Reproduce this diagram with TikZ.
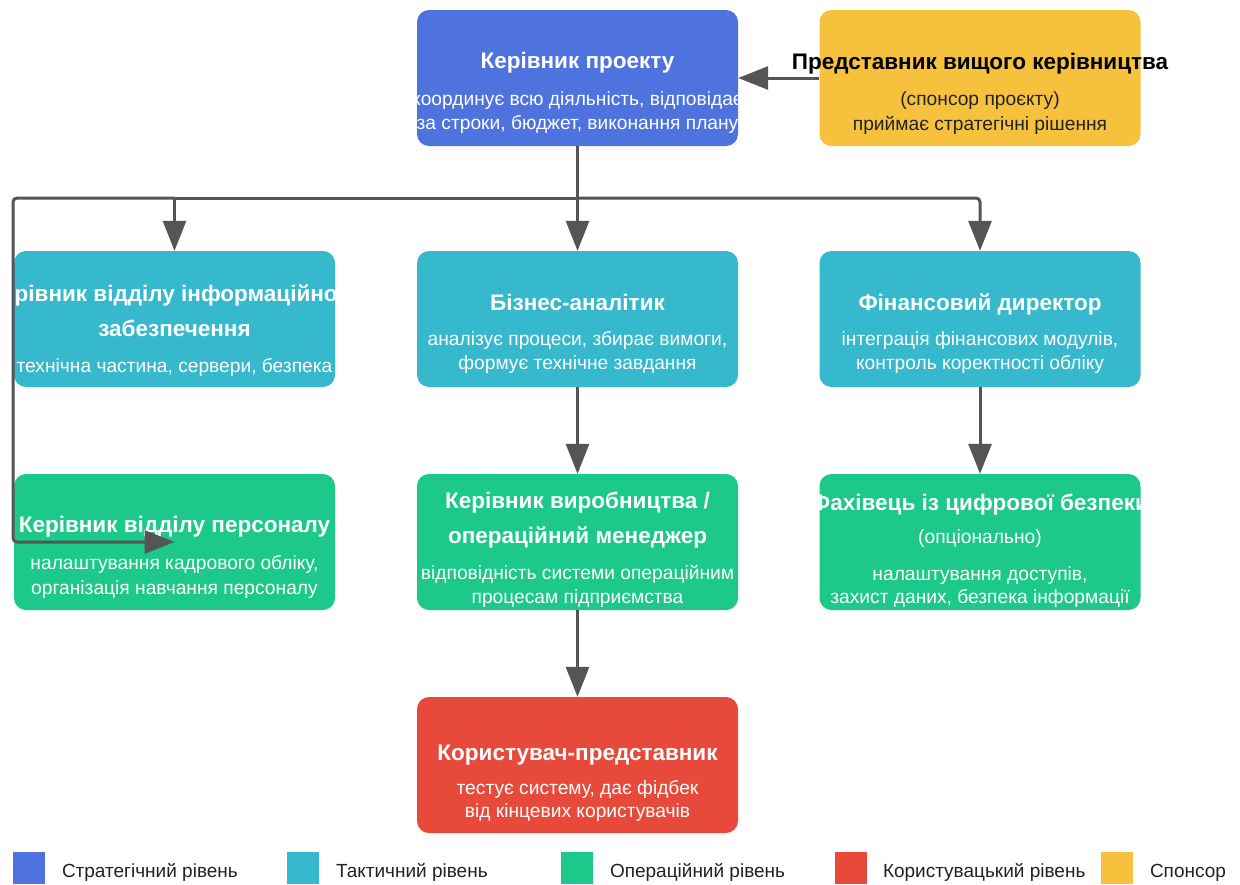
\documentclass[tikz,border=0pt]{standalone}
\usepackage{fontspec}
\setmainfont{Liberation Sans}
\usetikzlibrary{arrows.meta}
\definecolor{cstrat}{HTML}{4E73DF}
\definecolor{ctact}{HTML}{36B9CC}
\definecolor{coper}{HTML}{1CC88A}
\definecolor{cuser}{HTML}{E74A3B}
\definecolor{cspon}{HTML}{F6C23E}
\definecolor{cline}{HTML}{555555}
\definecolor{ctext}{HTML}{222222}
\newcommand\tline[5]{\node[#1, anchor=base] (#2) at (#3,#4) {#5};}
\begin{document}
\begin{tikzpicture}[x=1pt,y=-1pt,
  card/.style={rectangle, rounded corners=12pt, minimum width=321pt, minimum height=136pt, inner sep=0pt, draw=none},
  ttl/.style={inner sep=0pt, text=white, font=\fontsize{22.5}{26}\selectfont\bfseries},
  dsc/.style={inner sep=0pt, text=white, font=\fontsize{19.2}{23}\selectfont},
  sttl/.style={ttl, text=black},
  sdsc/.style={dsc, text=ctext},
  lgd/.style={inner sep=0pt, text=ctext, font=\fontsize{19}{23}\selectfont},
  sq/.style={rectangle, minimum width=32pt, minimum height=32pt, inner sep=0pt, draw=none, anchor=north west},
  arr/.style={draw=cline, line width=3pt, -{Triangle[length=30pt,width=23pt]}},
  ln/.style={draw=cline, line width=3pt}
]
\useasboundingbox (0,0) rectangle (1240,884);
\fill[white] (0,0) rectangle (1240,884);

% cards
\node[card, fill=cstrat] (pm)  at (577.5,78) {};
\node[card, fill=cspon]  (sp)  at (980,78) {};
\node[card, fill=ctact]  (it)  at (174.5,319) {};
\node[card, fill=ctact]  (ba)  at (577.5,319) {};
\node[card, fill=ctact]  (fd)  at (980,319) {};
\node[card, fill=coper]  (hr)  at (174.5,542) {};
\node[card, fill=coper]  (op)  at (577.5,542) {};
\node[card, fill=coper]  (sec) at (980,542) {};
\node[card, fill=cuser]  (usr) at (577.5,765) {};

% texts
\tline{ttl}{pm1}{577.5}{68}{Керівник проекту}
\tline{dsc}{pm2}{577.5}{105}{координує всю діяльність, відповідає}
\tline{dsc}{pm3}{577.5}{129}{за строки, бюджет, виконання плану}

\tline{sttl}{sp1}{980}{69}{Представник вищого керівництва}
\tline{sdsc}{sp2}{980}{105}{(спонсор проєкту)}
\tline{sdsc}{sp3}{980}{130}{приймає стратегічні рішення}

\tline{ttl}{it1}{174.5}{301}{Керівник відділу інформаційного}
\tline{ttl}{it2}{174.5}{336}{забезпечення}
\tline{dsc}{it3}{174.5}{372}{технічна частина, сервери, безпека}

\tline{ttl}{ba1}{577.5}{310}{Бізнес-аналітик}
\tline{dsc}{ba2}{577.5}{345}{аналізує процеси, збирає вимоги,}
\tline{dsc}{ba3}{577.5}{369}{формує технічне завдання}

\tline{ttl}{fd1}{980}{310}{Фінансовий директор}
\tline{dsc}{fd2}{980}{345}{інтеграція фінансових модулів,}
\tline{dsc}{fd3}{980}{369}{контроль коректності обліку}

\tline{ttl}{hr1}{174.5}{532}{Керівник відділу персоналу}
\tline{dsc}{hr2}{174.5}{569}{налаштування кадрового обліку,}
\tline{dsc}{hr3}{174.5}{594}{організація навчання персоналу}

\tline{ttl}{op1}{577.5}{508}{Керівник виробництва /}
\tline{ttl}{op2}{577.5}{543}{операційний менеджер}
\tline{dsc}{op3}{577.5}{579}{відповідність системи операційним}
\tline{dsc}{op4}{577.5}{603}{процесам підприємства}

\tline{ttl}{sc1}{980}{510}{Фахівець із цифрової безпеки}
\tline{dsc}{sc2}{980}{543}{(опціонально)}
\tline{dsc}{sc3}{980}{580}{налаштування доступів,}
\tline{dsc}{sc4}{980}{603}{захист даних, безпека інформації}

\tline{ttl}{us1}{577.5}{760}{Користувач-представник}
\tline{dsc}{us2}{577.5}{794}{тестує систему, дає фідбек}
\tline{dsc}{us3}{577.5}{817}{від кінцевих користувачів}

% connectors
\coordinate (jl) at (13,198);
\draw[arr] (sp.west) -- (pm.east);
\draw[arr] (pm.south) -- (ba.north);
\draw[arr, rounded corners=4pt] (pm.south |- jl) -| (fd.north);
\draw[ln] (pm.south |- jl) -- (it.north |- jl);
\draw[arr] (it.north |- jl) -- (it.north);
\draw[arr, rounded corners=4pt] (it.north |- jl) -- (jl) |- (hr.center);
\draw[arr] (ba.south) -- (op.north);
\draw[arr] (fd.south) -- (sec.north);
\draw[arr] (op.south) -- (usr.north);

% legend
\node[sq, fill=cstrat] (lg1) at (13,852) {};
\tline{lgd}{lt1}{62}{877}{\rlap{Стратегічний рівень}}
\node[sq, fill=ctact] (lg2) at (287,852) {};
\tline{lgd}{lt2}{336}{877}{\rlap{Тактичний рівень}}
\node[sq, fill=coper] (lg3) at (561,852) {};
\tline{lgd}{lt3}{610}{877}{\rlap{Операційний рівень}}
\node[sq, fill=cuser] (lg4) at (835,852) {};
\tline{lgd}{lt4}{883}{877}{\rlap{Користувацький рівень}}
\node[sq, fill=cspon] (lg5) at (1101,852) {};
\tline{lgd}{lt5}{1150}{877}{\rlap{Спонсор}}
\end{tikzpicture}
\end{document}
